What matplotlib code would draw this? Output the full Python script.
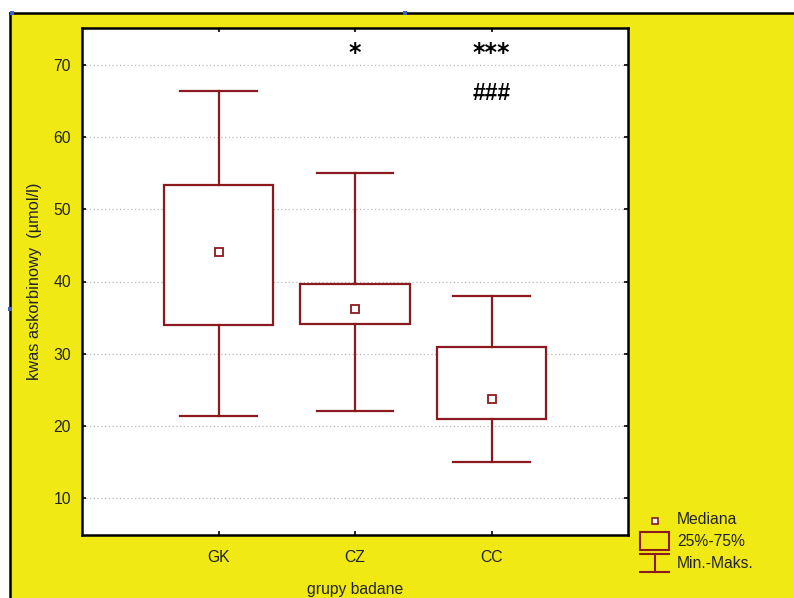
import matplotlib
matplotlib.use("Agg")
import matplotlib.pyplot as plt
from matplotlib.patches import Rectangle
from matplotlib.lines import Line2D

# dane
groups = ["GK", "CZ", "CC"]
v_min = [21.4, 22.1, 15.0]
v_q1 = [34.0, 34.1, 20.95]
v_med = [44.1, 36.2, 23.7]
v_q3 = [53.4, 39.7, 30.9]
v_max = [66.4, 55.0, 38.0]
marks_top = ["", "*", "***"]
marks_second = ["", "", "###"]
yticks = [10, 20, 30, 40, 50, 60, 70]

RED = "#8b1a1f"
YELLOW = "#f1e914"
FS = 11.3

plt.rcParams['font.family'] = ['Liberation Sans', 'DejaVu Sans']

W, H = 794, 598
fig = plt.figure(figsize=(W / 100, H / 100), dpi=100)
fig.patch.set_facecolor("white")


def fx(px):
    return px / W


def fy(py):
    return 1 - py / H


# żółte tło z czarną ramką z lewej i u góry
fig.add_artist(Rectangle((fx(10), 0), 1 - fx(10), fy(13), transform=fig.transFigure,
                         facecolor=YELLOW, edgecolor="none", zorder=0))
fig.add_artist(Line2D([fx(10), fx(10)], [0, fy(13)], transform=fig.transFigure,
                      color="black", lw=1.8))
fig.add_artist(Line2D([fx(10), 1], [fy(13), fy(13)], transform=fig.transFigure,
                      color="black", lw=1.8))
for hx, hy in [(12, 13), (405, 13), (10, 309)]:
    fig.add_artist(Rectangle((fx(hx - 2), fy(hy + 2)), fx(4), 4 / H, transform=fig.transFigure,
                             facecolor="#4060c0", edgecolor="none", zorder=5))

ax = fig.add_axes([fx(82), fy(535), fx(628) - fx(82), fy(28) - fy(535)])
ax.set_facecolor("white")

pos = list(range(1, len(groups) + 1))
bw = 0.8
cw = 0.56
for i, p in enumerate(pos):
    ax.add_patch(Rectangle((p - bw / 2, v_q1[i]), bw, v_q3[i] - v_q1[i],
                           facecolor="white", edgecolor=RED, lw=1.6, zorder=3))
    ax.plot([p, p], [v_q3[i], v_max[i]], color=RED, lw=1.6, zorder=3)
    ax.plot([p, p], [v_min[i], v_q1[i]], color=RED, lw=1.6, zorder=3)
    ax.plot([p - cw / 2, p + cw / 2], [v_max[i], v_max[i]], color=RED, lw=1.6, zorder=3)
    ax.plot([p - cw / 2, p + cw / 2], [v_min[i], v_min[i]], color=RED, lw=1.6, zorder=3)
    ax.plot(p, v_med[i], marker="s", ms=5.5, mfc="white", mec=RED, mew=1.3, zorder=4)
    if marks_top[i]:
        ax.text(p, 71.7, marks_top[i], ha="center", va="center", fontsize=17,
                fontweight="bold", color="black", family="DejaVu Sans")
    if marks_second[i]:
        ax.text(p, 66.1, marks_second[i], ha="center", va="center", fontsize=16.5,
                fontweight="bold", color="black")

ax.set_xlim(0, 4)
ax.set_ylim(4.87, 75.13)
ax.set_xticks(pos)
ax.set_xticklabels(groups)
ax.set_yticks(yticks)
ax.yaxis.grid(True, linestyle=(0, (1, 2)), color="#bbbbbb", lw=0.9)
ax.set_axisbelow(True)
ax.tick_params(direction="in", length=3, width=1.2, top=True, right=True,
               labelsize=FS, labelcolor="#222222")
ax.tick_params(axis="x", pad=11)
ax.tick_params(axis="y", pad=8)
for s in ax.spines.values():
    s.set_linewidth(1.8)
    s.set_color("black")

ax.set_ylabel("kwas askorbinowy  (µmol/l)", fontsize=11.8, color="#222222", labelpad=8)
ax.set_xlabel("grupy badane", fontsize=FS, color="#222222", labelpad=12)

# legenda
fig.add_artist(Rectangle((fx(652), fy(524)), fx(6), 6 / H, transform=fig.transFigure,
                         facecolor="white", edgecolor=RED, lw=1.2))
fig.add_artist(Rectangle((fx(640), fy(550)), fx(29), 18 / H, transform=fig.transFigure,
                         facecolor="none", edgecolor=RED, lw=1.5))
fig.add_artist(Line2D([fx(640), fx(669)], [fy(554), fy(554)], transform=fig.transFigure,
                      color=RED, lw=1.5))
fig.add_artist(Line2D([fx(640), fx(669)], [fy(572), fy(572)], transform=fig.transFigure,
                      color=RED, lw=1.5))
fig.add_artist(Line2D([fx(654.5), fx(654.5)], [fy(554), fy(572)], transform=fig.transFigure,
                      color=RED, lw=1.5))
for txt, ty in [("Mediana", 520), ("25%-75%", 542), ("Min.-Maks.", 564)]:
    fig.text(fx(677), fy(ty), txt, fontsize=FS, color="#222222", va="center", ha="left")

plt.savefig("out.png", dpi=100)
